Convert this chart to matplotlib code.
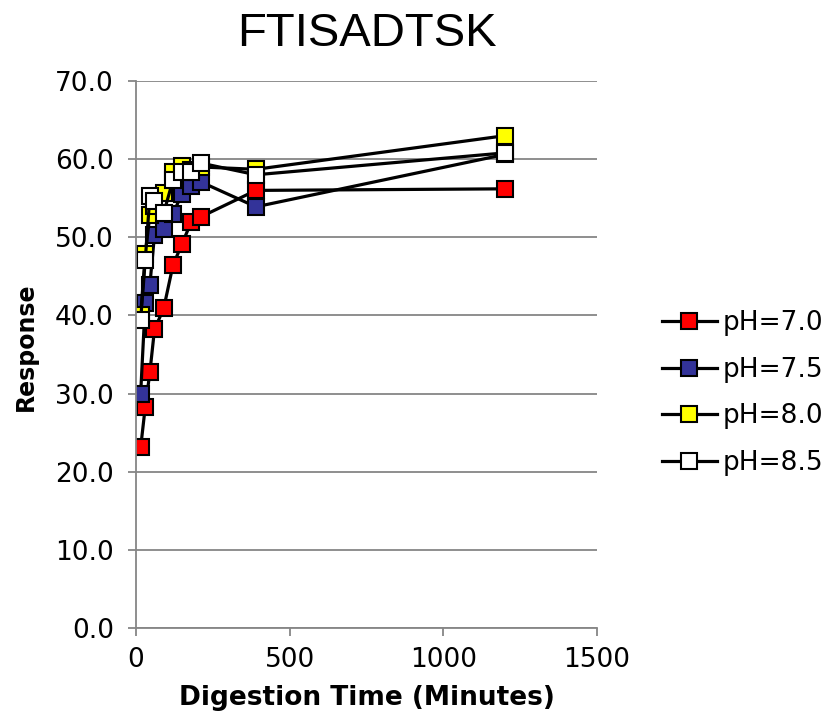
import numpy as np
import matplotlib
matplotlib.use("Agg")
from matplotlib import pyplot as plt

# digestion time points (minutes)
minutes = [15, 30, 45, 60, 90, 120, 150, 180, 210, 390, 1200]

ph_70 = [23.1, 28.3, 32.7, 38.2, 40.9, 46.4, 49.2, 52.0, 52.6, 56.0, 56.2]
ph_75 = [30.0, 41.6, 43.9, 50.3, 51.0, 53.0, 55.6, 56.6, 57.1, 53.9, 60.6]
ph_80 = [40.0, 47.8, 52.9, 54.0, 55.7, 58.4, 59.1, 58.6, 59.0, 58.7, 63.0]
ph_85 = [39.4, 47.1, 55.3, 54.7, 53.1, 57.3, 58.4, 58.4, 59.5, 58.0, 60.8]

labels = ["pH=7.0", "pH=7.5", "pH=8.0", "pH=8.5"]
colors = ["#FF0000", "#333399", "#FFFF00", "#FFFFFF"]

fig = plt.figure(figsize=(8.27, 7.2), dpi=100)
ax = fig.add_axes([0.1645, 0.1278, 0.5575, 0.7597])

for vals, lab, col in zip([ph_70, ph_75, ph_80, ph_85], labels, colors):
    ax.plot(minutes, vals, color="black", lw=2.3, marker="s",
            ms=12, mfc=col, mec="black", mew=1.5, label=lab)

ax.set_xlim(0, 1500)
ax.set_ylim(0, 70)
ax.set_xticks([0, 500, 1000, 1500])
ax.set_yticks(np.arange(0, 71, 10))
ax.set_yticklabels([f"{v:.1f}" for v in np.arange(0, 71, 10)])
ax.grid(axis="y", color="#868686", lw=1.3)
ax.set_axisbelow(True)
for s in ["top", "right"]:
    ax.spines[s].set_visible(False)
for s in ["left", "bottom"]:
    ax.spines[s].set_color("#868686")
    ax.spines[s].set_linewidth(1.3)
ax.tick_params(axis="both", color="#868686", width=1.3, length=6,
               labelsize=19, labelcolor="black")
ax.tick_params(axis="x", pad=8)
ax.tick_params(axis="y", pad=10)

ax.set_title("FTISADTSK", fontsize=34, family="Liberation Sans", pad=25)
ax.set_xlabel("Digestion Time (Minutes)", fontsize=19, fontweight="bold", labelpad=8)
ax.set_ylabel("Response", fontsize=17, fontweight="bold")
ax.yaxis.set_label_coords(-0.212, 0.514)

fig.legend(loc="center left", bbox_to_anchor=(0.80, 0.454),
           bbox_transform=fig.transFigure, frameon=False, borderpad=0,
           borderaxespad=0, fontsize=19, handlelength=2.1,
           handletextpad=0.2, labelspacing=0.78)

fig.savefig("out.png", dpi=100)
